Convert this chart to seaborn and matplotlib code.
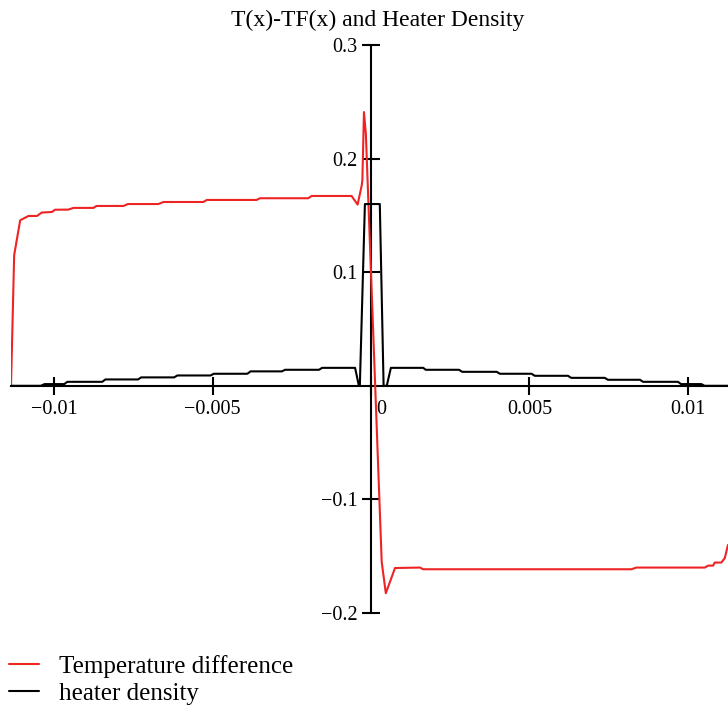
import matplotlib
matplotlib.use("Agg")
import matplotlib.pyplot as plt
import matplotlib.transforms as mtransforms
import seaborn as sns
import pandas as pd

sns.set_theme(style="white")
plt.rcParams["font.family"] = ["Liberation Serif", "DejaVu Serif"]
plt.rcParams["text.color"] = "black"

title = "T(x)-TF(x) and Heater Density"
series_names = ["Temperature difference", "heater density"]

temp_x = [-0.01136, -0.01126, -0.01107, -0.01081, -0.01054, -0.01039, -0.01007,
          -0.00997, -0.00955, -0.00939, -0.00876, -0.00866, -0.00781, -0.00767,
          -0.00671, -0.00655, -0.00529, -0.00518, -0.00361, -0.00350, -0.00198,
          -0.00187, -0.00061, -0.00042, -0.00029, -0.00027, -0.00022, -0.00016,
          0.00034, 0.00047, 0.00076, 0.00155, 0.00165, 0.00822, 0.00838,
          0.01054, 0.01064, 0.01080, 0.01085, 0.01106, 0.01117, 0.01127]
temp_y = [0.0, 0.115, 0.1457, 0.1495, 0.1495, 0.1525, 0.153,
          0.155, 0.1551, 0.1566, 0.1566, 0.1583, 0.1583, 0.160,
          0.160, 0.1618, 0.1618, 0.1636, 0.1636, 0.1651, 0.1651,
          0.1671, 0.1671, 0.1595, 0.1765, 0.181, 0.241, 0.222,
          -0.155, -0.1826, -0.1604, -0.160, -0.1615, -0.1615, -0.160,
          -0.160, -0.1583, -0.1583, -0.1556, -0.1556, -0.1516, -0.140]

heat_x = [-0.01136, -0.01042, -0.01030, -0.00968, -0.00958, -0.00848, -0.00838,
          -0.00735, -0.00725, -0.00621, -0.00611, -0.00506, -0.00496, -0.00390,
          -0.00380, -0.00281, -0.00271, -0.00164, -0.00154, -0.00050, -0.00038,
          -0.00035, -0.00019, 0.00028, 0.00040, 0.00050, 0.00063, 0.00165,
          0.00173, 0.00278, 0.00288, 0.00397, 0.00407, 0.00507, 0.00517,
          0.00622, 0.00632, 0.00738, 0.00748, 0.00849, 0.00859, 0.00969,
          0.00979, 0.01043, 0.01053, 0.01127]
heat_y = [0.0, 0.0, 0.0015, 0.0015, 0.0035, 0.0035, 0.0056,
          0.0056, 0.0074, 0.0074, 0.0091, 0.0091, 0.0106, 0.0106,
          0.0127, 0.0127, 0.0141, 0.0141, 0.0158, 0.0158, 0.0,
          0.0, 0.16, 0.16, 0.0, 0.0, 0.0158, 0.0158,
          0.0141, 0.0141, 0.0123, 0.0123, 0.0106, 0.0106, 0.0088,
          0.0088, 0.0070, 0.0070, 0.0053, 0.0053, 0.0035, 0.0035,
          0.0015, 0.0015, 0.0, 0.0]

x_ticks = [-0.01, -0.005, 0, 0.005, 0.01]
x_tick_labels = ["\u22120.01", "\u22120.005", "0", "0.005", "0.01"]
y_ticks = [-0.2, -0.1, 0.1, 0.2, 0.3]
y_tick_labels = ["\u22120.2", "\u22120.1", "0.1", "0.2", "0.3"]

df_t = pd.DataFrame({"x": temp_x, "y": temp_y})
df_h = pd.DataFrame({"x": heat_x, "y": heat_y})

fig = plt.figure(figsize=(7.28, 7.08), dpi=100)
ax = fig.add_axes([11 / 728, 95 / 708, 717 / 728, 568 / 708])
ax.patch.set_alpha(0)

sns.lineplot(data=df_t, x="x", y="y", ax=ax, color="#ee2424", lw=1.5,
             sort=False, estimator=None, label=series_names[0])
sns.lineplot(data=df_h, x="x", y="y", ax=ax, color="black", lw=1.5,
             sort=False, estimator=None, label=series_names[1])

ax.set_xlim(-0.01136, 0.01127)
ax.set_ylim(-0.2, 0.3)
ax.set_xlabel("")
ax.set_ylabel("")

for s in ["top", "right"]:
    ax.spines[s].set_visible(False)
ax.spines["left"].set_position(("data", 0))
ax.spines["bottom"].set_position(("data", 0))
for s in ["left", "bottom"]:
    ax.spines[s].set_color("black")
    ax.spines[s].set_linewidth(1.5)
    ax.spines[s].set_zorder(1)

ax.set_xticks(x_ticks)
ax.set_xticklabels(x_tick_labels)
ax.set_yticks(y_ticks)
ax.set_yticklabels(y_tick_labels)
ax.tick_params(axis="both", which="major", direction="inout", length=13,
               width=1.5, color="black", labelsize=14.5, labelcolor="black",
               bottom=True, left=True, top=False, right=False)
ax.tick_params(axis="x", pad=4)
ax.tick_params(axis="y", pad=3)
ax.grid(False)

# "0" label sits a bit to the right of the vertical axis
for lbl in ax.get_xticklabels():
    if lbl.get_text() == "0":
        lbl.set_transform(lbl.get_transform() +
                          mtransforms.ScaledTranslation(10 / 100, 0, fig.dpi_scale_trans))

fig.text(378 / 728, 1 - 20 / 708, title, ha="center", va="center",
         fontsize=17, color="black")

handles, labels = ax.get_legend_handles_labels()
leg = ax.legend(handles, labels, loc="upper left",
                bbox_to_anchor=(0.0, 1 - 646 / 708),
                bbox_transform=fig.transFigure, frameon=False, fontsize=18,
                handlelength=1.2, handletextpad=0.8, labelspacing=0.18,
                borderaxespad=0.15, borderpad=0.2)
for t in leg.get_texts():
    t.set_color("black")

fig.savefig("out.png", dpi=100)
